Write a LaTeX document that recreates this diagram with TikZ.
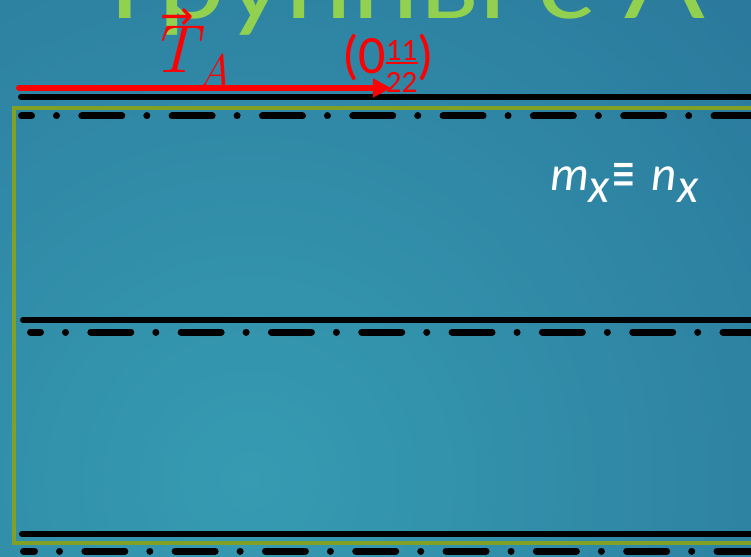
\documentclass[tikz,border=0pt]{standalone}
\usepackage{fontspec}
\newfontfamily\carl{Carlito}
\newfontfamily\titlefont{Lato}
\newfontfamily\dejavu{DejaVu Sans}
\usetikzlibrary{arrows.meta}
\definecolor{bgin}{RGB}{54,156,178}
\definecolor{bgout}{RGB}{36,100,143}
\definecolor{titlegreen}{RGB}{146,208,80}
\definecolor{framegreen}{RGB}{128,160,38}
\newcommand\halfstack{{\fontsize{31}{31}\selectfont
  \rlap{\raisebox{10pt}{\rule{16pt}{2.2pt}}}\rlap{\raisebox{13pt}{1}}\raisebox{-19pt}{2}}}
\tikzset{
  solidline/.style={line width=6pt, line cap=round, black},
  dashdotline/.style={line width=7pt, line cap=round, black,
    dash pattern=on 40pt off 25pt on 0.01pt off 25.3pt},
  framebox/.style={draw=framegreen, line width=3.5pt},
  redarrow/.style={draw=red, line width=6pt, line cap=round,
    -{Triangle[length=18pt,width=18pt]}},
  titletext/.style={text=titlegreen, inner sep=0pt,
    font=\titlefont\fontsize{98}{100}\selectfont},
  redtext/.style={text=red, inner sep=0pt},
  whitetext/.style={text=white, inner sep=0pt,
    font=\carl\itshape\fontsize{49}{50}\selectfont},
}
\begin{document}
\begin{tikzpicture}[x=1pt,y=-1pt]
\useasboundingbox (0,0) rectangle (751,556);
\clip (0,0) rectangle (751,556);
\shade[inner color=bgin, outer color=bgout] (250,480) circle (1100);

% title (cut off at the top)
\node[titletext, anchor=base west] (title) at (108,19) {\scalebox{1.22}[1]{Группы с А}};

% frame
\coordinate (fr1) at (14,108);
\coordinate (fr2) at (780,543);
\draw[framebox] (fr1) rectangle (fr2);

% solid lines
\coordinate (l1s) at (21,97);  \coordinate (l1e) at (770,97);
\coordinate (l2s) at (23,320); \coordinate (l2e) at (770,320);
\coordinate (l3s) at (22,534); \coordinate (l3e) at (770,534);
\draw[solidline] (l1s) -- (l1e);
\draw[solidline] (l2s) -- (l2e);
\draw[solidline] (l3s) -- (l3e);

% dash-dot lines
\coordinate (d1s) at (21.5,116); \coordinate (d1e) at (770,116);
\coordinate (d2s) at (30.5,332); \coordinate (d2e) at (770,332);
\coordinate (d3s) at (23.5,551); \coordinate (d3e) at (770,551);
\draw[dashdotline, dash phase=30pt] (d1s) -- (d1e);
\draw[dashdotline, dash phase=30pt] (d2s) -- (d2e);
\draw[dashdotline, dash phase=29pt] (d3s) -- (d3e);

% red translation arrow
\coordinate (a1) at (19,88);
\coordinate (a2) at (391,88);
\draw[redarrow] (a1) -- (a2);

\node[redtext, anchor=base west, font=\fontsize{68}{70}\selectfont\itshape] (tlabel) at (150,73)
  {\rlap{\raisebox{43pt}{\hspace{10pt}\dejavu\upshape\fontsize{40}{40}\selectfont →}}T\raisebox{-15pt}{\fontsize{47}{47}\selectfont A}};
\node[redtext, anchor=base west, font=\carl\fontsize{54}{56}\selectfont] (tcoord) at (342,74)
  {(0\halfstack\halfstack)};

% equivalence label
\node[whitetext, anchor=base west] (mnlabel) at (550,190)
  {m\raisebox{-12pt}{x}\hspace{1pt}\scalebox{1.05}[1.8]{\dejavu\upshape\fontsize{28}{28}\selectfont ≡}\hspace{16pt}n\raisebox{-12pt}{x}};
\end{tikzpicture}
\end{document}
